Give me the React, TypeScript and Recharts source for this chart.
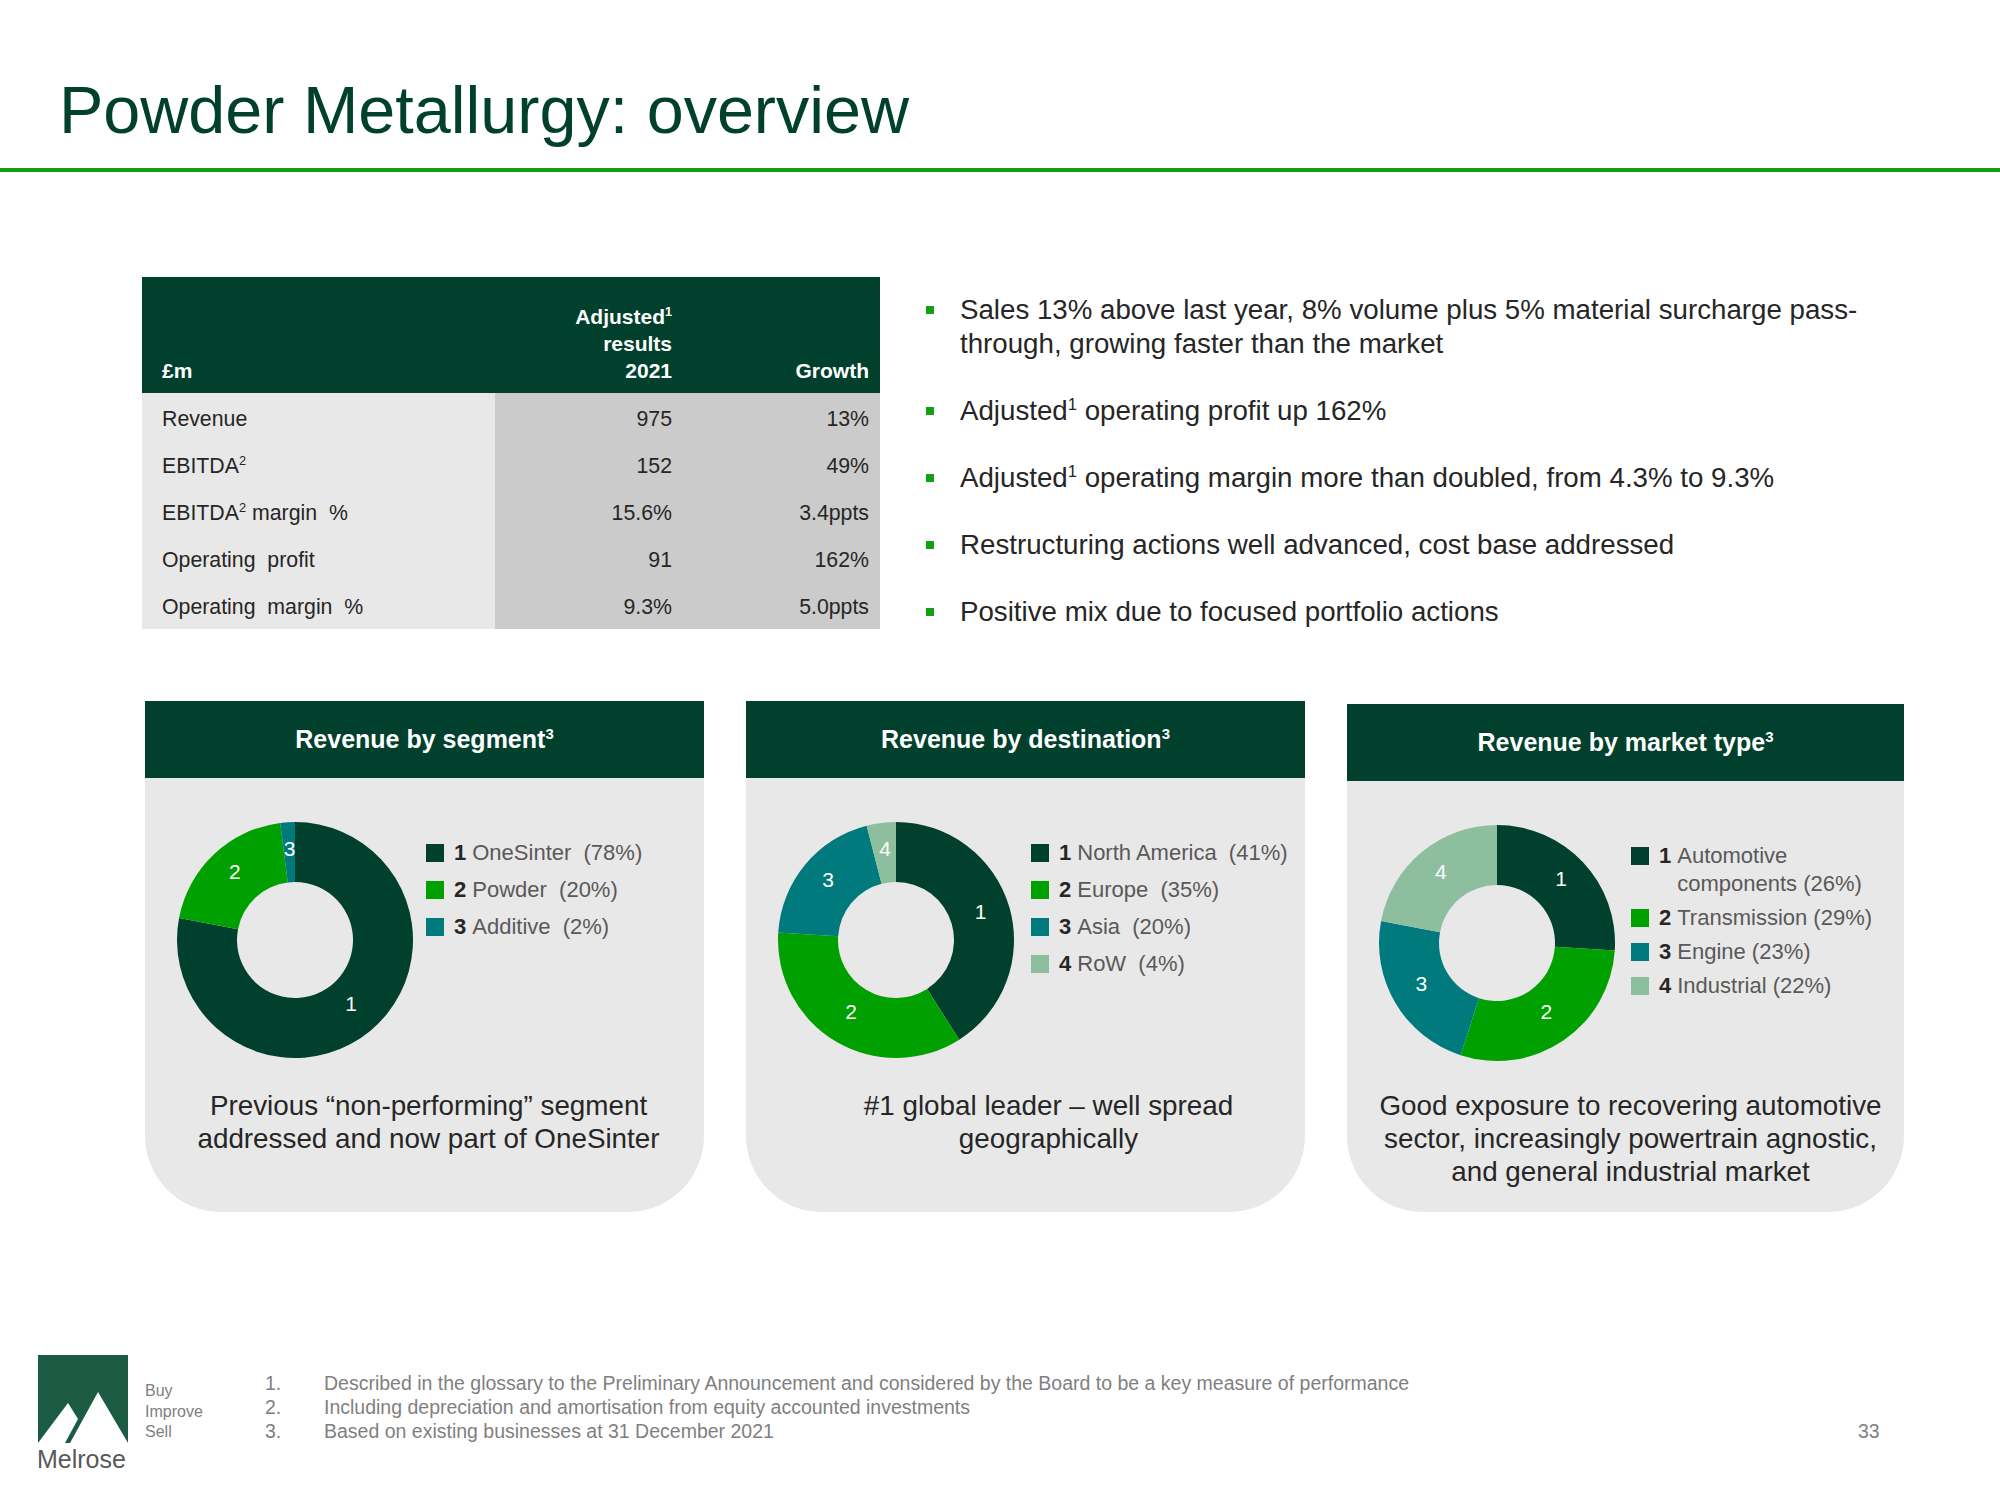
import React from 'react';
import { PieChart, Pie, Cell } from 'recharts';

// table data
const tableLabels = [['Revenue'], ['EBITDA', '2'], ['EBITDA', '2', ' margin  %'], ['Operating  profit'], ['Operating  margin  %']];
const tableValues = ['975', '152', '15.6%', '91', '9.3%'];
const tableGrowth = ['13%', '49%', '3.4ppts', '162%', '5.0ppts'];

// bullets (odd parts are superscripts)
const bullets = [
  ['Sales 13% above last year, 8% volume plus 5% material surcharge pass-\nthrough, growing faster than the market'],
  ['Adjusted', '1', ' operating profit up 162%'],
  ['Adjusted', '1', ' operating margin more than doubled, from 4.3% to 9.3%'],
  ['Restructuring actions well advanced, cost base addressed'],
  ['Positive mix due to focused portfolio actions'],
];

// donut data
const segmentNames = ['OneSinter', 'Powder', 'Additive'];
const segmentShares = [78, 20, 2];
const destinationNames = ['North America', 'Europe', 'Asia', 'RoW'];
const destinationShares = [41, 35, 20, 4];
const marketNames = ['Automotive components', 'Transmission', 'Engine', 'Industrial'];
const marketShares = [26, 29, 23, 22];

const panelTitles = ['Revenue by segment', 'Revenue by destination', 'Revenue by market type'];
const panelCaptions = [
  'Previous \u201cnon-performing\u201d segment\naddressed and now part of OneSinter',
  '#1 global leader \u2013 well spread\ngeographically',
  'Good exposure to recovering automotive\nsector, increasingly powertrain agnostic,\nand general industrial market',
];

const footnotes = [
  'Described in the glossary to the Preliminary Announcement and considered by the Board to be a key measure of performance',
  'Including depreciation and amortisation from equity accounted investments',
  'Based on existing businesses at 31 December 2021',
];

const COLORS = ['#00402d', '#00a000', '#007a7c', '#8dbf9e'];
const DARK = '#00402d';
const FONT = "'Liberation Sans', Arial, sans-serif";
const RADIAN = Math.PI / 180;

const Sup = ({ children }: { children: React.ReactNode }) => (
  <sup style={{ fontSize: '0.6em', lineHeight: 0, verticalAlign: 'super' }}>{children}</sup>
);

const renderParts = (parts: string[]) =>
  parts.map((p, i) => (i % 2 === 1 ? <Sup key={i}>{p}</Sup> : <span key={i}>{p}</span>));

const renderIndexLabel = (props: any) => {
  const { cx, cy, midAngle, innerRadius, outerRadius, index } = props;
  const r = innerRadius + (outerRadius - innerRadius) * 0.5;
  const x = cx + r * Math.cos(-midAngle * RADIAN);
  const y = cy + r * Math.sin(-midAngle * RADIAN) - 4;
  return (
    <text x={x} y={y} fill="#ffffff" textAnchor="middle" dominantBaseline="central" fontSize={21} fontFamily={FONT}>
      {index + 1}
    </text>
  );
};

interface PanelProps {
  title: string;
  caption: string;
  names: string[];
  shares: number[];
  left: number;
  top: number;
  width: number;
  legendX: number;
  legendGap: number;
  captionShift: number;
  legendTextWidth?: number;
}

const Panel: React.FC<PanelProps> = ({ title, caption, names, shares, left, top, width, legendX, legendGap, captionShift, legendTextWidth }) => {
  const data = names.map((n, i) => ({ name: n, value: shares[i] }));
  return (
    <div style={{ position: 'absolute', left, top, width, height: 1212 - top }}>
      <div
        style={{
          height: 77,
          background: DARK,
          color: '#fff',
          fontWeight: 'bold',
          fontSize: 25,
          display: 'flex',
          alignItems: 'center',
          justifyContent: 'center',
        }}
      >
        <span>
          {title}
          <Sup>3</Sup>
        </span>
      </div>
      <div style={{ position: 'absolute', top: 77, left: 0, right: 0, bottom: 0, background: '#e8e8e8', borderRadius: '0 0 76px 76px' }} />
      <div style={{ position: 'absolute', left: 0, top: 239 - 150 }}>
        <PieChart width={300} height={300} margin={{ top: 0, right: 0, bottom: 0, left: 0 }}>
          <Pie
            data={data}
            dataKey="value"
            cx="50%"
            cy="50%"
            innerRadius={58}
            outerRadius={118}
            startAngle={90}
            endAngle={-270}
            stroke="none"
            labelLine={false}
            label={renderIndexLabel}
            isAnimationActive={false}
          >
            {data.map((_, i) => (
              <Cell key={`cell-${i}`} fill={COLORS[i % COLORS.length]} />
            ))}
          </Pie>
        </PieChart>
      </div>
      <div style={{ position: 'absolute', left: legendX, top: 138, fontSize: 22, lineHeight: '28px' }}>
        {names.map((n, i) => (
          <div key={n} style={{ display: 'flex', alignItems: 'flex-start', marginBottom: legendGap }}>
            <div style={{ width: 18, height: 18, marginTop: 5, marginRight: 10, background: COLORS[i] }} />
            <span style={{ fontWeight: 'bold', color: '#262626', marginRight: 6 }}>{i + 1}</span>
            <span style={{ color: '#595959', width: legendTextWidth, whiteSpace: legendTextWidth ? 'normal' : 'pre' }}>
              {legendTextWidth ? `${n} (${shares[i]}%)` : `${n}  (${shares[i]}%)`}
            </span>
          </div>
        ))}
      </div>
      <div
        style={{
          position: 'absolute',
          left: captionShift,
          width,
          top: 1089 - top,
          textAlign: 'center',
          fontSize: 27.8,
          lineHeight: '33px',
          color: '#262626',
          whiteSpace: 'pre-line',
        }}
      >
        {caption}
      </div>
    </div>
  );
};

const App: React.FC = () => {
  const rowH = 47.2;
  return (
    <div
      style={{
        position: 'absolute',
        left: 0,
        top: 0,
        width: 2000,
        height: 1500,
        background: '#fff',
        overflow: 'hidden',
        fontFamily: FONT,
      }}
    >
      {/* Title */}
      <div style={{ position: 'absolute', left: 59, top: 72, fontSize: 66.5, color: DARK, lineHeight: '76px' }}>
        Powder Metallurgy: overview
      </div>
      <div style={{ position: 'absolute', left: 0, top: 168, width: 2000, height: 4, background: '#12a012' }} />

      {/* Table */}
      <div style={{ position: 'absolute', left: 142, top: 277, width: 738, height: 352 }}>
        <div style={{ position: 'absolute', left: 0, top: 0, width: 738, height: 116, background: DARK, color: '#fff', fontWeight: 'bold', fontSize: 21, lineHeight: '27px' }}>
          <div style={{ position: 'absolute', left: 20, top: 80 }}>£m</div>
          <div style={{ position: 'absolute', right: 738 - 530, top: 26, textAlign: 'right' }}>
            Adjusted<Sup>1</Sup>
            <br />
            results
            <br />
            2021
          </div>
          <div style={{ position: 'absolute', right: 11, top: 80 }}>Growth</div>
        </div>
        <div style={{ position: 'absolute', left: 0, top: 116, width: 353, height: rowH * 5, background: '#e8e8e8' }} />
        <div style={{ position: 'absolute', left: 353, top: 116, width: 385, height: rowH * 5, background: '#cbcbcb' }} />
        {tableLabels.map((lab, i) => (
          <div key={i} style={{ position: 'absolute', left: 0, top: 118.5 + i * rowH, width: 738, height: rowH, fontSize: 21.3, color: '#262626', lineHeight: `${rowH}px` }}>
            <div style={{ position: 'absolute', left: 20, whiteSpace: 'pre' }}>{renderParts(lab)}</div>
            <div style={{ position: 'absolute', right: 738 - 530 }}>{tableValues[i]}</div>
            <div style={{ position: 'absolute', right: 11 }}>{tableGrowth[i]}</div>
          </div>
        ))}
      </div>

      {/* Bullets */}
      <div style={{ position: 'absolute', left: 960, top: 293, width: 960, fontSize: 27.7, lineHeight: '34px', color: '#262626' }}>
        {bullets.map((b, i) => (
          <div key={i} style={{ position: 'relative', marginBottom: 33, whiteSpace: 'pre-line' }}>
            <div style={{ position: 'absolute', left: -34, top: 13, width: 8, height: 8, background: '#12a012' }} />
            {renderParts(b)}
          </div>
        ))}
      </div>

      {/* Panels */}
      <Panel title={panelTitles[0]} caption={panelCaptions[0]} names={segmentNames} shares={segmentShares} left={145} top={701} width={559} legendX={281} legendGap={9} captionShift={4} />
      <Panel title={panelTitles[1]} caption={panelCaptions[1]} names={destinationNames} shares={destinationShares} left={746} top={701} width={559} legendX={285} legendGap={9} captionShift={23} />
      <Panel title={panelTitles[2]} caption={panelCaptions[2]} names={marketNames} shares={marketShares} left={1347} top={704} width={557} legendX={284} legendGap={6} captionShift={5} legendTextWidth={215} />

      {/* Footer logo */}
      <svg style={{ position: 'absolute', left: 38, top: 1355 }} width={90} height={88}>
        <rect x={0} y={0} width={90} height={88} fill="#1b5a43" />
        <polygon points="0,88 30,48 40,64 27,88" fill="#fff" />
        <polygon points="32,88 60,37 90,88" fill="#fff" />
      </svg>
      <div style={{ position: 'absolute', left: 37, top: 1445, fontSize: 25, color: '#595959', lineHeight: '28px' }}>Melrose</div>
      <div style={{ position: 'absolute', left: 145, top: 1381, fontSize: 16, color: '#808080', lineHeight: '20.5px' }}>
        Buy
        <br />
        Improve
        <br />
        Sell
      </div>
      <div style={{ position: 'absolute', left: 265, top: 1371, fontSize: 19.5, color: '#7f7f7f', lineHeight: '24px' }}>
        {footnotes.map((f, i) => (
          <div key={i} style={{ display: 'flex', whiteSpace: 'nowrap' }}>
            <span style={{ width: 59 }}>{i + 1}.</span>
            <span>{f}</span>
          </div>
        ))}
      </div>
      <div style={{ position: 'absolute', left: 1858, top: 1419, fontSize: 19.5, color: '#7f7f7f', lineHeight: '24px' }}>33</div>
    </div>
  );
};

export default App;
